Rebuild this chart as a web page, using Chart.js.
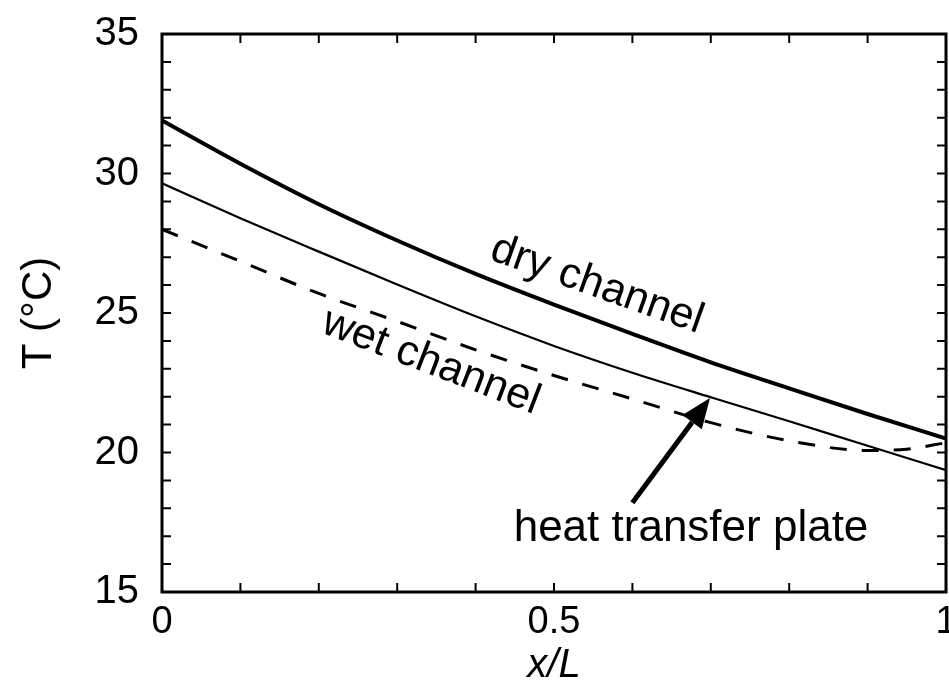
<!DOCTYPE html>
<html>
<head>
<meta charset="utf-8">
<script src="https://cdn.jsdelivr.net/npm/chart.js@4"></script>
<style>
  body { margin: 0; background: #fff; }
</style>
</head>
<body>
<canvas id="myChart" width="949" height="690"></canvas>
<script>
const xPos = [0, 0.1, 0.2, 0.3, 0.4, 0.5, 0.6, 0.7, 0.8, 0.9, 1.0];
const dryT = [31.9, 30.35, 28.9, 27.6, 26.4, 25.3, 24.25, 23.23, 22.3, 21.38, 20.5];
const wetT = [29.65, 28.4, 27.2, 26.02, 24.88, 23.82, 22.86, 21.98, 21.12, 20.24, 19.37];
const plateX = [0, 0.1, 0.2, 0.3, 0.4, 0.5, 0.6, 0.7, 0.8, 0.9, 0.95, 1.0];
const plateT = [28.0, 26.85, 25.7, 24.7, 23.68, 22.76, 21.92, 21.07, 20.42, 20.07, 20.12, 20.35];

const xTicks = [0, 0.5, 1];
const yTicks = [15, 20, 25, 30, 35];

const FONT = "'Liberation Sans', Arial, sans-serif";

const pts = (xs, ys) => xs.map((x, i) => ({ x: x, y: ys[i] }));

// frame, inward ticks, labels and arrow
const decor = {
  id: "decor",
  afterDatasetsDraw(chart) {
    const { ctx, chartArea: a, scales: { x, y } } = chart;
    ctx.save();
    ctx.strokeStyle = "#000";
    ctx.fillStyle = "#000";

    ctx.lineWidth = 2;
    ctx.beginPath();
    for (let i = 1; i < 10; i++) {
      const px = x.getPixelForValue(i / 10);
      ctx.moveTo(px, a.bottom); ctx.lineTo(px, a.bottom - 9);
      ctx.moveTo(px, a.top); ctx.lineTo(px, a.top + 9);
    }
    for (let t = 16; t < 35; t++) {
      const py = y.getPixelForValue(t);
      ctx.moveTo(a.left, py); ctx.lineTo(a.left + 9, py);
      ctx.moveTo(a.right, py); ctx.lineTo(a.right - 9, py);
    }
    ctx.stroke();

    ctx.lineWidth = 3;
    ctx.strokeRect(a.left, a.top, a.right - a.left, a.bottom - a.top);

    ctx.font = "43px " + FONT;
    ctx.textAlign = "center";
    ctx.textBaseline = "middle";

    ctx.save();
    ctx.translate(597, 285);
    ctx.rotate(19.5 * Math.PI / 180);
    ctx.fillText("dry channel", 0, 0);
    ctx.restore();

    ctx.save();
    ctx.translate(431, 362);
    ctx.rotate(21 * Math.PI / 180);
    ctx.fillText("wet channel", 0, 0);
    ctx.restore();

    ctx.font = "44px " + FONT;
    ctx.textBaseline = "alphabetic";
    ctx.fillText("heat transfer plate", 691, 541);

    // arrow pointing at the plate curve
    const tx = x.getPixelForValue(0.699), ty = y.getPixelForValue(21.95);
    const sx = x.getPixelForValue(0.6), sy = y.getPixelForValue(18.2);
    const ang = Math.atan2(ty - sy, tx - sx);
    const hl = 30, hw = 12;
    const bx = tx - hl * Math.cos(ang), by = ty - hl * Math.sin(ang);
    ctx.lineWidth = 5;
    ctx.beginPath();
    ctx.moveTo(sx, sy);
    ctx.lineTo(bx, by);
    ctx.stroke();
    ctx.beginPath();
    ctx.moveTo(tx, ty);
    ctx.lineTo(bx + hw * Math.sin(ang), by - hw * Math.cos(ang));
    ctx.lineTo(bx - hw * Math.sin(ang), by + hw * Math.cos(ang));
    ctx.closePath();
    ctx.fill();

    ctx.restore();
  },
};

const myChart = new Chart(document.getElementById("myChart"), {
  type: "line",
  data: {
    datasets: [
      {
        label: "dry channel",
        data: pts(xPos, dryT),
        borderColor: "#000",
        borderWidth: 4,
        cubicInterpolationMode: "monotone",
        pointRadius: 0,
      },
      {
        label: "wet channel",
        data: pts(xPos, wetT),
        borderColor: "#000",
        borderWidth: 2.2,
        cubicInterpolationMode: "monotone",
        pointRadius: 0,
      },
      {
        label: "heat transfer plate",
        data: pts(plateX, plateT),
        borderColor: "#000",
        borderWidth: 3,
        borderDash: [17, 15],
        cubicInterpolationMode: "monotone",
        pointRadius: 0,
      },
    ],
  },
  options: {
    responsive: false,
    animation: false,
    devicePixelRatio: 1,
    layout: { padding: { top: 34, right: 3, left: 0, bottom: 0 } },
    plugins: {
      legend: { display: false },
      tooltip: { enabled: false },
    },
    scales: {
      x: {
        type: "linear",
        min: 0,
        max: 1,
        grid: { display: false },
        border: { display: false },
        afterBuildTicks(scale) {
          scale.ticks = xTicks.map((v) => ({ value: v }));
        },
        afterFit(scale) {
          scale.height = 98;
          scale.paddingLeft = 0;
          scale.paddingRight = 0;
        },
        ticks: {
          color: "#000",
          padding: 0,
          maxRotation: 0,
          font: { family: FONT, size: 38 },
          callback: (v) => String(v),
        },
        title: {
          display: true,
          text: "x/L",
          color: "#000",
          padding: { top: 0, bottom: 0 },
          font: { family: FONT, size: 40, style: "italic" },
        },
      },
      y: {
        min: 15,
        max: 35,
        grid: { display: false },
        border: { display: false },
        afterBuildTicks(scale) {
          scale.ticks = yTicks.map((v) => ({ value: v }));
        },
        afterFit(scale) {
          scale.width = 162;
          scale.paddingTop = 0;
          scale.paddingBottom = 0;
        },
        ticks: {
          color: "#000",
          padding: 15,
          font: { family: FONT, size: 40 },
        },
        title: {
          display: true,
          text: "T (°C)",
          color: "#000",
          padding: { top: 14, bottom: 0 },
          font: { family: FONT, size: 42 },
        },
      },
    },
  },
  plugins: [decor],
});
</script>
</body>
</html>
